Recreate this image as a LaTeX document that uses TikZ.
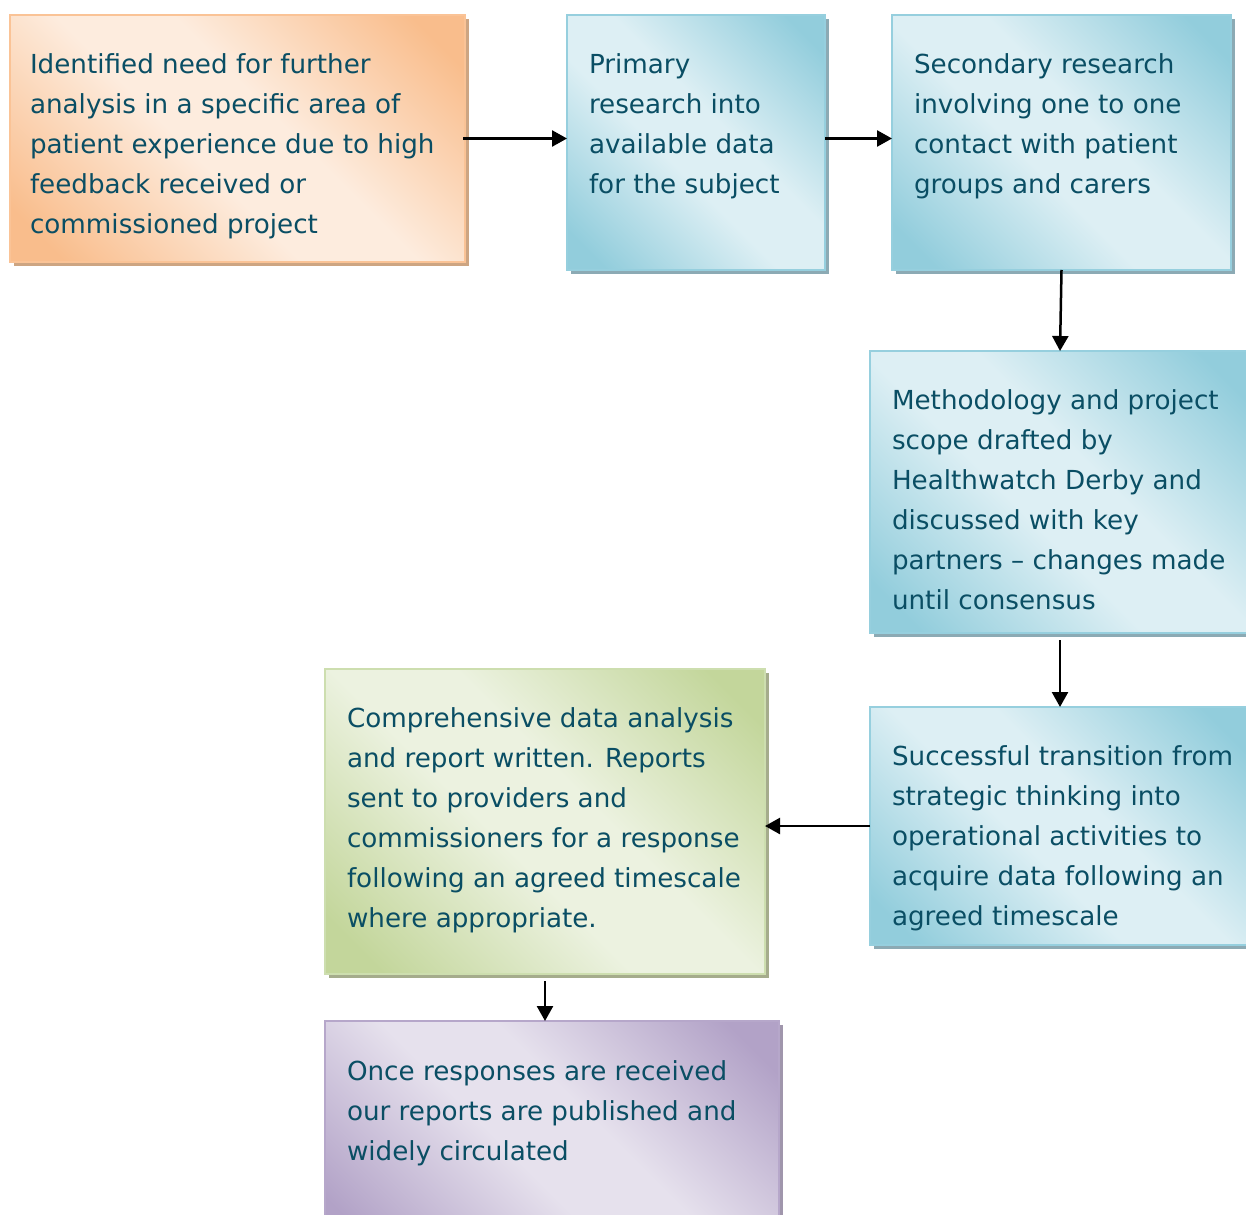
\documentclass[tikz,border=0pt]{standalone}
\usepackage{fontspec}
\setmainfont{DejaVu Sans}
\usetikzlibrary{arrows.meta,shadows}
\definecolor{txt}{RGB}{10,78,100}
\definecolor{odark}{RGB}{249,189,140}
\definecolor{olight}{RGB}{253,236,222}
\definecolor{oline}{RGB}{250,195,150}
\definecolor{oshad}{RGB}{205,165,130}
\definecolor{bdark}{RGB}{146,205,220}
\definecolor{blight}{RGB}{221,239,244}
\definecolor{bline}{RGB}{150,207,222}
\definecolor{bshad}{RGB}{140,170,180}
\definecolor{gdark}{RGB}{195,214,155}
\definecolor{glight}{RGB}{236,242,224}
\definecolor{gline}{RGB}{205,222,175}
\definecolor{gshad}{RGB}{165,172,140}
\definecolor{pdark}{RGB}{178,162,199}
\definecolor{plight}{RGB}{230,225,237}
\definecolor{pline}{RGB}{182,167,202}
\definecolor{pshad}{RGB}{160,150,172}
\colorlet{shdk}{bdark}
\colorlet{shlt}{blight}
\pgfdeclareverticalshading[shdk,shlt]{diagfill}{100bp}{color(0bp)=(shdk); color(20bp)=(shdk); color(44bp)=(shlt); color(56bp)=(shlt); color(80bp)=(shdk); color(100bp)=(shdk)}
\tikzset{
  setcols/.code 2 args={\colorlet{shdk}{#1}\colorlet{shlt}{#2}},
  box/.style={line width=1.5pt, inner sep=0pt, outer sep=0pt, anchor=north west},
  obox/.style={box, draw=oline, setcols={odark}{olight}, shading=diagfill, shading angle=-45,
    drop shadow={shadow xshift=4pt, shadow yshift=-4pt, fill=oshad, opacity=1}},
  bbox/.style={box, draw=bline, setcols={bdark}{blight}, shading=diagfill, shading angle=-45,
    drop shadow={shadow xshift=4pt, shadow yshift=-4pt, fill=bshad, opacity=1}},
  gbox/.style={box, draw=gline, setcols={gdark}{glight}, shading=diagfill, shading angle=-45,
    drop shadow={shadow xshift=4pt, shadow yshift=-4pt, fill=gshad, opacity=1}},
  pbox/.style={box, draw=pline, setcols={pdark}{plight}, shading=diagfill, shading angle=-45,
    drop shadow={shadow xshift=4pt, shadow yshift=-4pt, fill=pshad, opacity=1}},
  txtnode/.style={anchor=north west, inner sep=0pt, outer sep=0pt, align=left, text=txt,
    font=\fontsize{26.2}{40}\selectfont},
  arr/.style={-{Triangle[length=15pt,width=16pt]}, line width=2.5pt, black}
}
\begin{document}
\begin{tikzpicture}[x=1pt,y=-1pt]
\useasboundingbox (0,0) rectangle (1246,1214);
\clip (0,0) rectangle (1246,1214);
\node[obox, minimum width=455pt, minimum height=247pt] (b1) at (10,15) {};
\node[bbox, minimum width=258pt, minimum height=255pt] (b2) at (567,15) {};
\node[bbox, minimum width=339pt, minimum height=255pt] (b3) at (892,15) {};
\node[bbox, minimum width=380pt, minimum height=282pt] (b4) at (870,351) {};
\node[bbox, minimum width=380pt, minimum height=238pt] (b5) at (870,707) {};
\node[gbox, minimum width=440pt, minimum height=305pt] (b6) at (325,669) {};
\node[pbox, minimum width=454pt, minimum height=230pt] (b7) at (325,1021) {};

\node[txtnode] (t1) at (30,54) {Identified need for further\\analysis in a specific area of\\patient experience due to high\\feedback received or\\commissioned project};
\node[txtnode] (t2) at (589,54) {Primary\\research into\\available data\\for the subject};
\node[txtnode] (t3) at (914,54) {Secondary research\\involving one to one\\contact with patient\\groups and carers};
\node[txtnode] (t4) at (892,390) {Methodology and project\\scope drafted by\\Healthwatch Derby and\\discussed with key\\partners – changes made\\until consensus};
\node[txtnode] (t5) at (892,746) {Successful transition from\\strategic thinking into\\operational activities to\\acquire data following an\\agreed timescale};
\node[txtnode] (t6) at (347,708) {Comprehensive data analysis\\and report written. Reports\\sent to providers and\\commissioners for a response\\following an agreed timescale\\where appropriate.};
\node[txtnode] (t7) at (347,1061) {Once responses are received\\our reports are published and\\widely circulated};

\draw[arr] ([xshift=-2pt]b1.east) -- (b1.east -| b2.west);
\draw[arr] (b1.east -| b2.east) -- (b1.east -| b3.west);
\draw[arr] (b3.south) -- (b4.north);
\draw[arr] ([yshift=-7pt]b4.south) -- (b5.north);
\draw[arr] (b5.west) -- (b5.west -| b6.east);
\draw[arr] ([yshift=-7pt]b6.south) -- (b6.south |- b7.north);
\end{tikzpicture}
\end{document}
